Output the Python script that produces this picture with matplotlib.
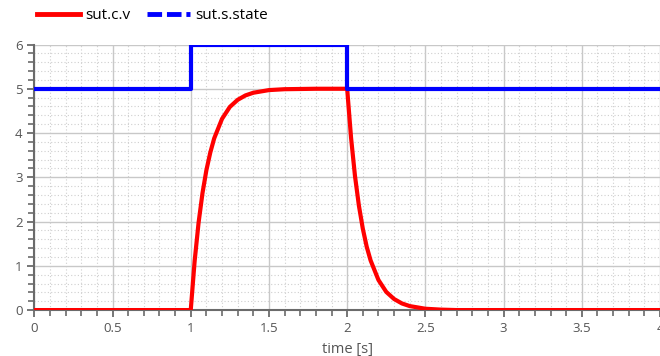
import matplotlib.pyplot as plt
from matplotlib.lines import Line2D
from matplotlib.ticker import MultipleLocator

# sut.c.v
t_cv = [0.0, 1.0, 1.025, 1.05, 1.075, 1.1, 1.125, 1.15, 1.2, 1.25, 1.3, 1.35, 1.4,
        1.5, 1.6, 1.8, 2.0, 2.025, 2.05, 2.075, 2.1, 2.125, 2.15, 2.2, 2.25, 2.3,
        2.35, 2.4, 2.45, 2.5, 2.6, 2.7, 4.0]
cv = [0.0, 0.0, 1.11, 1.97, 2.64, 3.16, 3.56, 3.88, 4.32, 4.59, 4.75, 4.85, 4.91,
      4.97, 4.99, 5.0, 5.0, 3.89, 3.03, 2.36, 1.84, 1.43, 1.12, 0.68, 0.41, 0.25,
      0.15, 0.09, 0.06, 0.03, 0.01, 0.0, 0.0]

# sut.s.state
t_state = [0.0, 1.0, 1.0, 2.0, 2.0, 4.0]
state = [5, 5, 6, 6, 5, 5]

plt.rcParams['font.family'] = ['Open Sans', 'DejaVu Sans']

fig = plt.figure(figsize=(6.6, 3.56), dpi=100)
ax = fig.add_axes([0.052, 0.129, 0.948, 0.746])

ax.plot(t_cv, cv, color='#ff0000', lw=3, zorder=3)
ax.plot(t_state, state, color='#0000ff', lw=3, zorder=4)

ax.set_xlim(0, 4)
ax.set_ylim(0, 6)
ax.xaxis.set_minor_locator(MultipleLocator(0.1))
ax.yaxis.set_major_locator(MultipleLocator(1))
ax.yaxis.set_minor_locator(MultipleLocator(0.2))
ax.set_xticks([0, 0.5, 1, 1.5, 2, 2.5, 3, 3.5, 4])
ax.set_xticklabels(['0', '0.5', '1', '1.5', '2', '2.5', '3', '3.5', '4'])

ax.grid(which='major', color='#c8c8c8', lw=1.0, ls='-')
ax.grid(which='minor', color='#cfcfcf', lw=0.8, ls=(0, (1, 2)))
ax.set_axisbelow(True)

for s in ['top', 'right']:
    ax.spines[s].set_visible(False)
for s in ['left', 'bottom']:
    ax.spines[s].set_color('#6b6b6b')
    ax.spines[s].set_linewidth(1.5)
ax.tick_params(which='major', direction='out', length=5, width=1.3, color='#6b6b6b',
               labelcolor='#555555', labelsize=9.5)
ax.tick_params(which='minor', direction='out', length=4, width=1.2, color='#6b6b6b')

ax.set_xlabel('time [s]', color='#555555', fontsize=10.5, labelpad=5)

handles = [Line2D([], [], color='#ff0000', lw=3.5),
           Line2D([], [], color='#0000ff', lw=3.5, ls=(0, (3.0, 1.0)))]
fig.legend(handles, ['sut.c.v', 'sut.s.state'], loc='upper left', ncol=2,
           bbox_to_anchor=(0.035, 1.015), frameon=False, fontsize=11,
           handlelength=2.8, handletextpad=0.35, columnspacing=1.1)

fig.savefig('out.png', dpi=100)
